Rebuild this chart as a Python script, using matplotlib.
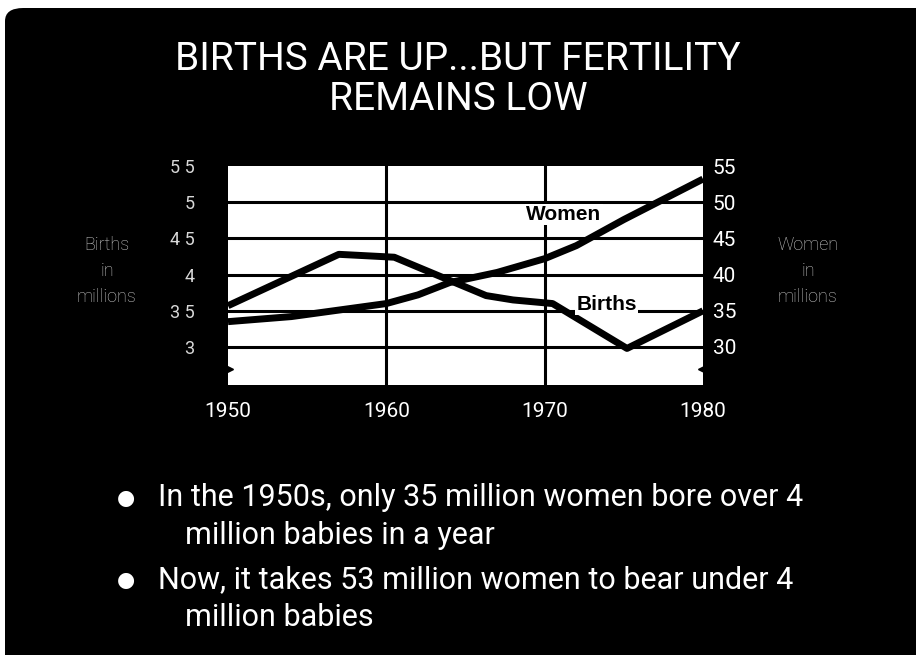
import matplotlib.pyplot as plt
from matplotlib.patches import FancyBboxPatch
from matplotlib.ticker import FixedLocator, FixedFormatter

# data
birth_years = [1950, 1957, 1960.5, 1966.3, 1968, 1970.5, 1975.2, 1980]
births = [3.57, 4.28, 4.24, 3.71, 3.65, 3.60, 2.98, 3.50]
women_years = [1950, 1954, 1957, 1960, 1962, 1964, 1967, 1970, 1972, 1975, 1980]
women = [33.5, 34.2, 35.1, 36.0, 37.2, 38.9, 40.3, 42.2, 44.0, 47.6, 53.2]

left_ticks = [3, 3.5, 4, 4.5, 5, 5.5]
left_labels = ["3", "3 5", "4", "4 5", "5", "5 5"]
right_ticks = [30, 35, 40, 45, 50, 55]
x_ticks = [1950, 1960, 1970, 1980]

title_lines = ["BIRTHS ARE UP...BUT FERTILITY", "REMAINS LOW"]
bullets = [["In the 1950s, only 35 million women bore over 4", "million babies in a year"],
           ["Now, it takes 53 million women to bear under 4", "million babies"]]

font = ["Roboto", "DejaVu Sans"]

fig = plt.figure(figsize=(9.16, 6.55), dpi=100)
fig.patch.set_facecolor("white")
# black slide with a rounded top-left corner
slide = FancyBboxPatch((5 / 916, -0.05), 1.2, 1.05 - 8 / 655,
                       boxstyle="round,pad=0,rounding_size=0.02",
                       transform=fig.transFigure, fc="black", ec="none", zorder=-10)
fig.patches.append(slide)

ax = fig.add_axes([228 / 916, 1 - 385 / 655, 475 / 916, 219 / 655])
ax.set_facecolor("white")
for s in ax.spines.values():
    s.set_visible(False)
ax.set_xlim(1950, 1980)
ax.set_ylim(2.475, 5.5)

for y in left_ticks[:-1]:
    ax.axhline(y, color="black", lw=2.2, zorder=1)
for x in x_ticks[1:-1]:
    ax.axvline(x, color="black", lw=2.2, zorder=1)

ax.plot(birth_years, births, color="black", lw=5, solid_joinstyle="round",
        solid_capstyle="butt", zorder=3)

ax.yaxis.set_major_locator(FixedLocator(left_ticks))
ax.yaxis.set_major_formatter(FixedFormatter(left_labels))
ax.tick_params(axis="y", length=0, pad=24, labelsize=13, labelcolor="#d8d8d8")
for t in ax.get_yticklabels():
    t.set_family(font)
ax.set_xticks(x_ticks)
ax.set_xticklabels([str(x) for x in x_ticks], family=font)
ax.tick_params(axis="x", length=0, pad=12, labelsize=15, labelcolor="white")

# break marks at the foot of the axis
ax.plot([1950], [2.7], marker=">", ms=7, color="black", clip_on=False, zorder=4)
ax.plot([1980], [2.7], marker="<", ms=7, color="black", clip_on=False, zorder=4)

ax2 = ax.twinx()
for s in ax2.spines.values():
    s.set_visible(False)
ax2.set_ylim(24.75, 55)
ax2.plot(women_years, women, color="black", lw=5, solid_joinstyle="round",
         solid_capstyle="butt", zorder=3)
ax2.set_yticks(right_ticks)
ax2.set_yticklabels([str(v) for v in right_ticks], family=font)
ax2.tick_params(axis="y", length=0, pad=7, labelsize=15, labelcolor="white")

ax2.text(1971.2, 48.3, "Women", ha="center", va="center", fontsize=15,
         fontweight="bold", family="Liberation Sans", zorder=2,
         bbox=dict(fc="white", ec="none", pad=1))
ax2.text(1973.9, 35.9, "Births", ha="center", va="center", fontsize=15,
         fontweight="bold", family="Liberation Sans", zorder=5,
         bbox=dict(fc="white", ec="none", pad=1))

fig.text(107 / 916, 1 - 271 / 655, "Births\nin\nmillions", ha="center", va="center",
         color="#c8c8c8", fontsize=13, family=font, fontweight="light", linespacing=1.6)
fig.text(808 / 916, 1 - 271 / 655, "Women\nin\nmillions", ha="center", va="center",
         color="#c8c8c8", fontsize=13, family=font, fontweight="light", linespacing=1.6)

for i, line in enumerate(title_lines):
    fig.text(458 / 916, 1 - (59 + 40 * i) / 655, line, ha="center", va="center",
             color="white", fontsize=28, family=font)

for i, b in enumerate(bullets):
    y0 = 498 + 82 * i
    fig.text(126 / 916, 1 - y0 / 655, "\u25cf", ha="center", va="center", color="white",
             fontsize=15, family="DejaVu Sans")
    fig.text(158 / 916, 1 - y0 / 655, b[0], ha="left", va="center", color="white",
             fontsize=22, family=font)
    fig.text(185 / 916, 1 - (y0 + 37) / 655, b[1], ha="left", va="center",
             color="white", fontsize=22, family=font)

fig.savefig("out.png", dpi=100, facecolor=fig.get_facecolor())
